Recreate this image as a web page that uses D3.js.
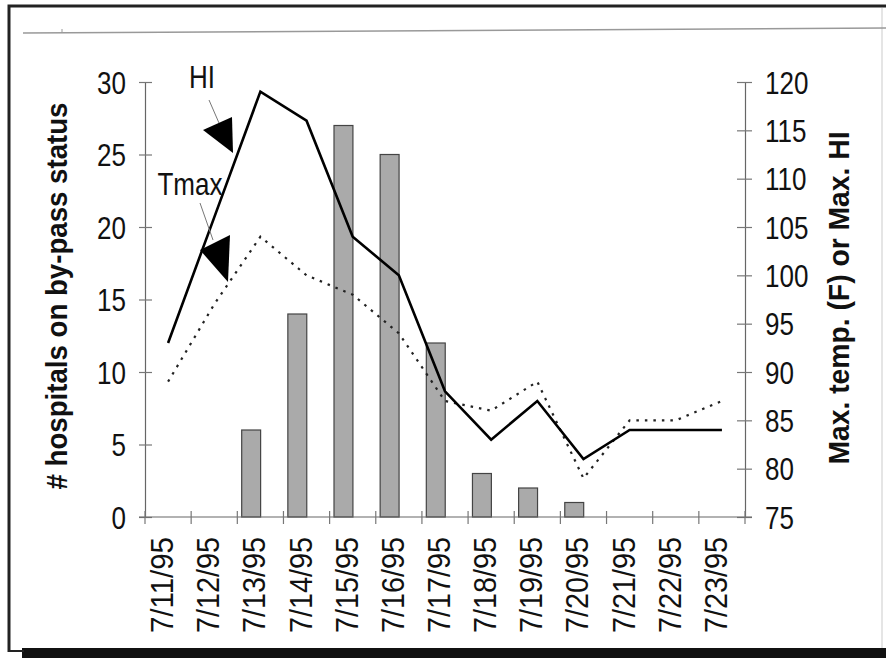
<!DOCTYPE html>
<html>
  <head>
    <meta charset="UTF-8" />
    <style>
      body { margin: 0; background: #fff; }
      svg { display: block; }
      .tick text, .lbl { font-family: "Liberation Sans", Arial, sans-serif; font-size: 31px; fill: #111; }
      .title { font-family: "Liberation Sans", Arial, sans-serif; font-size: 30px; font-weight: bold; fill: #111; }
    </style>
  </head>
  <body>
    <svg></svg>
    <script src="https://d3js.org/d3.v7.min.js"></script>
    <script>
      let width = 886,
        height = 658;
      let squeeze = 0.84; // the original uses a condensed face

      // data
      let dates = ["7/11/95", "7/12/95", "7/13/95", "7/14/95", "7/15/95", "7/16/95", "7/17/95",
        "7/18/95", "7/19/95", "7/20/95", "7/21/95", "7/22/95", "7/23/95"];
      let hospitals = [0, 0, 6, 14, 27, 25, 12, 3, 2, 1, 0, 0, 0];
      let heatIndex = [93, 106, 119, 116, 104, 100, 88, 83, 87, 81, 84, 84, 84];
      let tmax = [89, 97, 104, 100, 98, 94, 87, 86, 89, 79, 85, 85, 87];
      let leftTicks = [0, 5, 10, 15, 20, 25, 30];
      let rightTicks = [75, 80, 85, 90, 95, 100, 105, 110, 115, 120];

      let svg = d3.select("svg").attr("width", width).attr("height", height);

      // scanned page frame
      svg.append("path").attr("d", "M9,652 V6 H886").attr("fill", "none").attr("stroke", "#222").attr("stroke-width", 3);
      svg.append("rect").attr("x", 22).attr("y", 648).attr("width", 864).attr("height", 10).attr("fill", "#111");
      svg.append("line").attr("x1", 9).attr("x2", 24).attr("y1", 651).attr("y2", 651).attr("stroke", "#222").attr("stroke-width", 2);
      svg.append("line").attr("x1", 882).attr("x2", 882).attr("y1", 8).attr("y2", 648).attr("stroke", "#ddd").attr("stroke-width", 1.5);
      svg.append("line").attr("x1", 23).attr("x2", 886).attr("y1", 33).attr("y2", 28).attr("stroke", "#999").attr("stroke-width", 1.5);
      svg.append("line").attr("x1", 62).attr("x2", 62).attr("y1", 33).attr("y2", 29).attr("stroke", "#999").attr("stroke-width", 1);

      let x = d3.scaleBand().domain(dates).range([145, 745]).padding(0);
      let yL = d3.scaleLinear().domain([0, 30]).range([517, 82]);
      let yR = d3.scaleLinear().domain([75, 120]).range([517, 82]);
      let bw = x.bandwidth();

      // bars
      svg.append("g").selectAll("rect")
        .data(dates.map((d, i) => ({ d: d, v: hospitals[i] })).filter((e) => e.v > 0))
        .join("rect")
        .attr("x", (e) => x(e.d) + bw * 0.095)
        .attr("width", bw * 0.41)
        .attr("y", (e) => yL(e.v))
        .attr("height", (e) => yL(0) - yL(e.v))
        .attr("fill", "#aaa")
        .attr("stroke", "#444")
        .attr("stroke-width", 1.2);

      // left axis
      let gl = svg.append("g").attr("transform", "translate(145,0)")
        .call(d3.axisLeft(yL).tickValues(leftTicks).tickSize(6));
      gl.select(".domain").attr("stroke", "#666").attr("stroke-width", 1.2);
      gl.selectAll(".tick line").attr("x1", -6).attr("x2", 7).attr("stroke", "#777").attr("stroke-width", 1.2);
      gl.selectAll(".tick text").attr("x", -19 / squeeze).attr("transform", "scale(" + squeeze + ",1)");

      // right axis
      let gr = svg.append("g").attr("transform", "translate(745,0)")
        .call(d3.axisRight(yR).tickValues(rightTicks).tickSize(7));
      gr.select(".domain").attr("stroke", "#666").attr("stroke-width", 1.2);
      gr.selectAll(".tick line").attr("x1", -8).attr("x2", 7).attr("stroke", "#777").attr("stroke-width", 1.2);
      gr.selectAll(".tick text").attr("x", 20 / squeeze).attr("transform", "scale(" + squeeze + ",1)");
      svg.selectAll(".tick text").attr("dy", "0.36em");

      // x axis, ticks at band boundaries
      let bounds = dates.map((d) => x(d)).concat([x(dates[dates.length - 1]) + bw]);
      svg.append("line").attr("x1", 139).attr("x2", 752).attr("y1", yL(0)).attr("y2", yL(0))
        .attr("stroke", "#666").attr("stroke-width", 1.2);
      svg.append("g").selectAll("line").data(bounds).join("line")
        .attr("x1", (b) => b).attr("x2", (b) => b)
        .attr("y1", yL(0) - 6).attr("y2", yL(0) + 7)
        .attr("stroke", "#777").attr("stroke-width", 1.2);
      svg.append("g").selectAll("text").data(dates).join("text")
        .attr("class", "lbl")
        .attr("text-anchor", "end")
        .attr("textLength", 96)
        .attr("lengthAdjust", "spacingAndGlyphs")
        .attr("transform", (d) => "translate(" + (x(d) + bw / 2 + 5) + ",537) rotate(-90)")
        .text((d) => d);

      // lines
      let line = d3.line().x((e) => x(e.d) + bw / 2).y((e) => yR(e.v));
      svg.append("path")
        .datum(dates.map((d, i) => ({ d: d, v: tmax[i] })))
        .attr("d", line).attr("fill", "none").attr("stroke", "#222")
        .attr("stroke-width", 2.2).attr("stroke-dasharray", "2.5,6");
      svg.append("path")
        .datum(dates.map((d, i) => ({ d: d, v: heatIndex[i] })))
        .attr("d", line).attr("fill", "none").attr("stroke", "#000")
        .attr("stroke-width", 2.6).attr("stroke-linejoin", "miter");

      // annotations
      svg.append("text").attr("class", "lbl").attr("text-anchor", "middle")
        .attr("transform", "translate(202,88) scale(" + squeeze + ",1)").text("HI");
      svg.append("text").attr("class", "lbl").attr("text-anchor", "middle")
        .attr("transform", "translate(190,195) scale(" + squeeze + ",1)").text("Tmax");
      svg.append("line").attr("x1", 209).attr("y1", 100).attr("x2", 219).attr("y2", 123).attr("stroke", "#777").attr("stroke-width", 1);
      svg.append("line").attr("x1", 200).attr("y1", 203).attr("x2", 213).attr("y2", 240).attr("stroke", "#777").attr("stroke-width", 1);
      svg.append("path").attr("d", "M203,130 L232,117 L233,153 Z").attr("fill", "#000");
      svg.append("path").attr("d", "M200,250 L230,235 L228,282 Z").attr("fill", "#000");

      // axis titles
      svg.append("text").attr("class", "title")
        .attr("transform", "translate(67,296) rotate(-90)")
        .attr("text-anchor", "middle")
        .attr("textLength", 387).attr("lengthAdjust", "spacingAndGlyphs")
        .text("# hospitals on by-pass status");
      svg.append("text").attr("class", "title")
        .attr("transform", "translate(849,298) rotate(-90)")
        .attr("text-anchor", "middle")
        .attr("textLength", 333).attr("lengthAdjust", "spacingAndGlyphs")
        .text("Max. temp. (F) or Max. HI");
    </script>
  </body>
</html>
